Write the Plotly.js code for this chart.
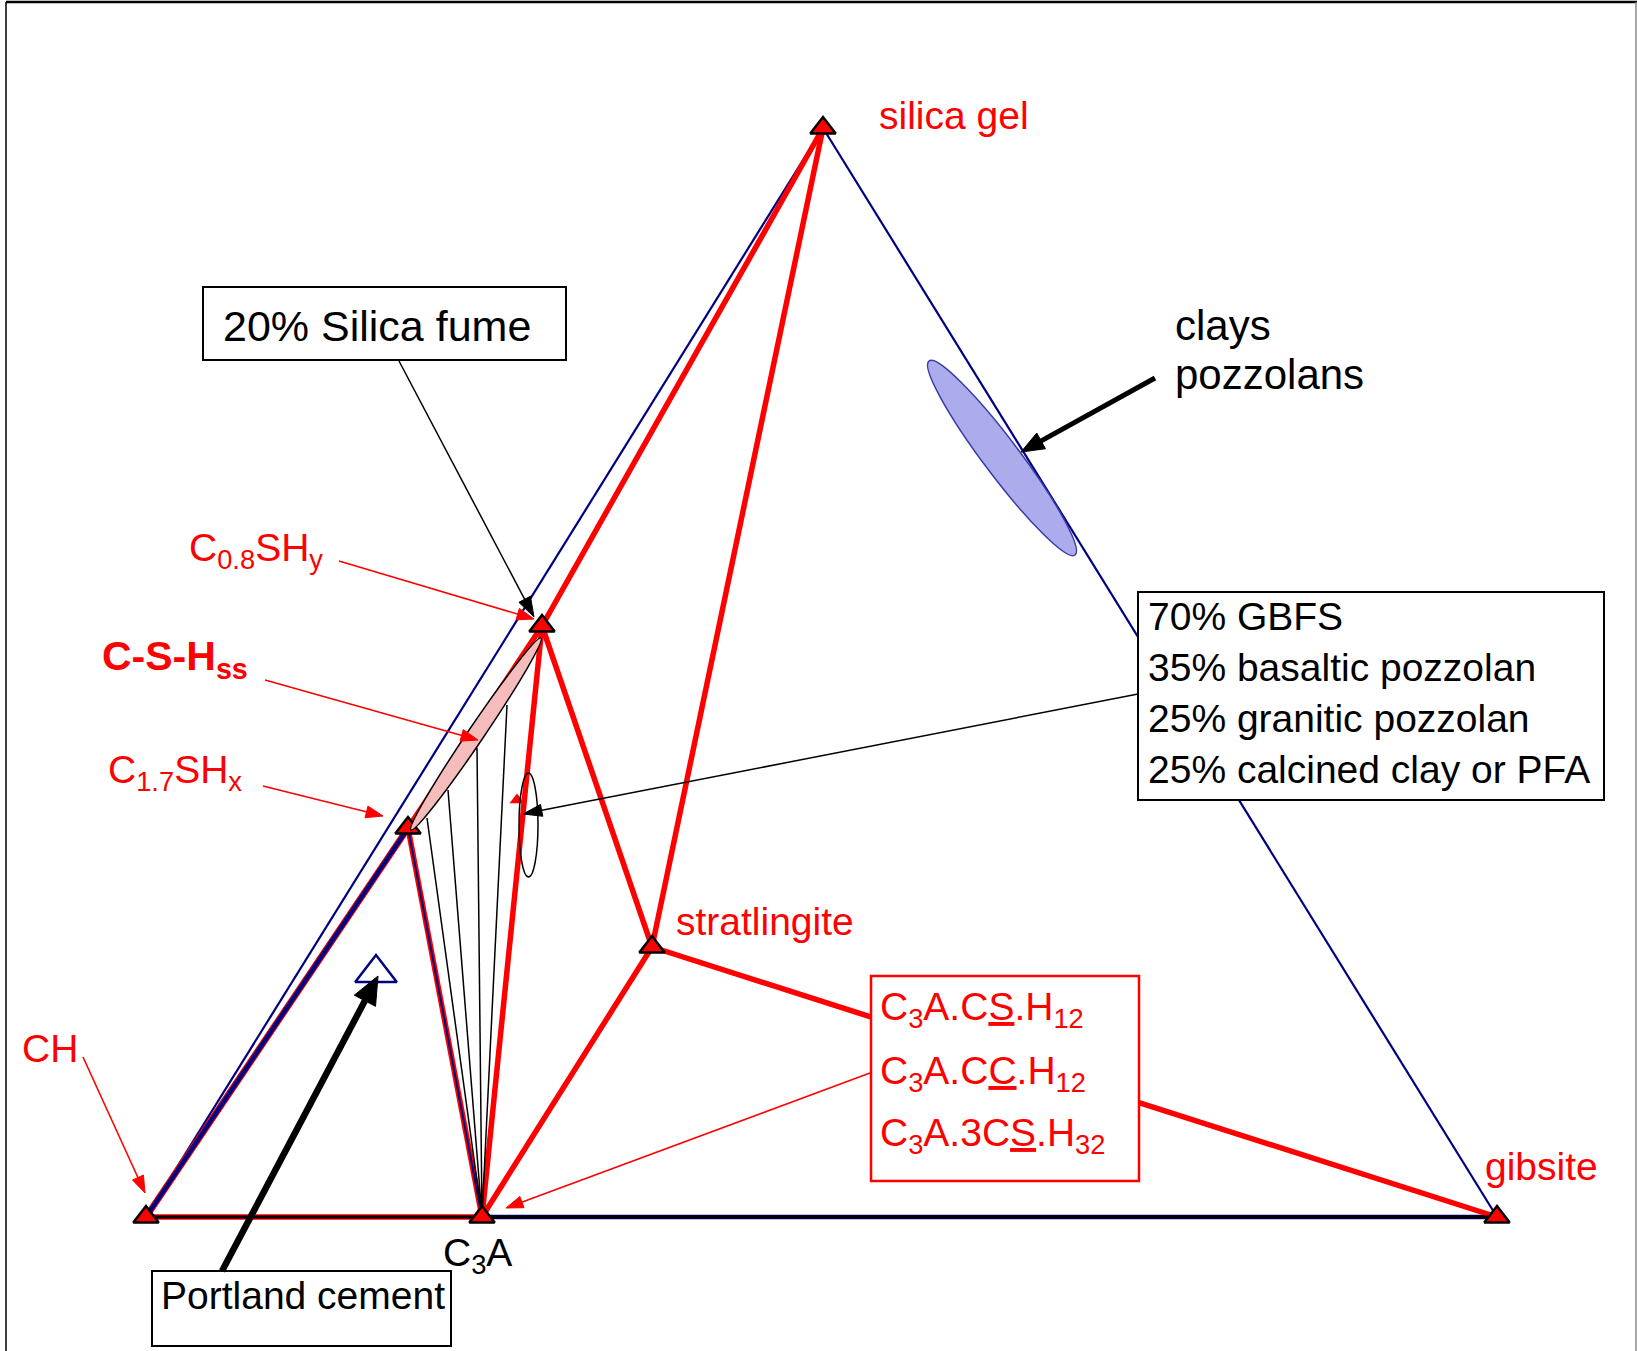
<!DOCTYPE html>
<html><head><meta charset="utf-8">
<script src="https://cdn.plot.ly/plotly-3.0.1.min.js"></script>
<style>html,body{margin:0;padding:0;background:#fff;}#chart{width:1637px;height:1351px;}</style>
</head><body><div id="chart"></div>
<script>
// ---- Phase vertices of the CaO-Al2O3-SiO2 (hydrated) diagram, diagram coordinates ----
const phaseNames = ['CH', 'C3A', 'gibsite', 'silica gel', 'C0.8SHy', 'C1.7SHx', 'stratlingite'];
const phaseX = [146, 482, 1497, 823, 542, 408, 652];
const phaseY = [1217, 1217, 1217, 128, 626, 828, 947];

// ---- Edges between phases ----
const outerEdges = [['CH', 'silica gel'], ['silica gel', 'gibsite']];
const outerBaseEdges = [['C3A', 'gibsite']];
const redEdges = [['silica gel', 'C0.8SHy'], ['silica gel', 'stratlingite'], ['C0.8SHy', 'stratlingite'],
  ['stratlingite', 'C3A'], ['stratlingite', 'gibsite'], ['C0.8SHy', 'C3A'], ['C0.8SHy', 'C1.7SHx'],
  ['C1.7SHx', 'C3A'], ['CH', 'C1.7SHx'], ['CH', 'C3A']];
const baseEdges = [['CH', 'gibsite']];

// ---- Tie lines from C3A to the C-S-H solid solution ----
const tieEndX = [427, 448, 477, 507];
const tieEndY = [818, 790, 748, 705];

// ---- Other composition points ----
const cementX = [376], cementY = [973];           // Portland cement
const blendX = [517], blendY = [800];             // blended cement point

// ---- Composition regions (axis end points, half width) ----
const cshRegion = {from: [411, 830], to: [541, 638], half: 8};
const clayRegion = {from: [929, 361], to: [1075, 555], half: 18};

// ---- Texts ----
const hydrateLines = ['C<sub>3</sub>A.C<u>S</u>.H<sub>12</sub>', 'C<sub>3</sub>A.C<u>C</u>.H<sub>12</sub>', 'C<sub>3</sub>A.3C<u>S</u>.H<sub>32</sub>'];
const blendLines = ['70% GBFS', '35% basaltic pozzolan', '25% granitic pozzolan', '25% calcined clay or PFA'];

const RED = '#ff0000', NAVY = '#000080', FONT = 'Liberation Sans, Arial, Helvetica, sans-serif';

function idx(n) { return phaseNames.indexOf(n); }
function edgeTrace(edges, color, width) {
  const x = [], y = [];
  edges.forEach(([a, b]) => { x.push(phaseX[idx(a)], phaseX[idx(b)], null); y.push(phaseY[idx(a)], phaseY[idx(b)], null); });
  return {type: 'scatter', mode: 'lines', x, y, line: {color, width}, hoverinfo: 'skip'};
}
const c3a = idx('C3A');
const tieX = [], tieY = [];
tieEndX.forEach((v, i) => { tieX.push(phaseX[c3a], v, null); tieY.push(phaseY[c3a], tieEndY[i], null); });

const traces = [
  edgeTrace(outerEdges, NAVY, 2.2),
  edgeTrace(outerBaseEdges, NAVY, 4.5),
  edgeTrace(redEdges, RED, 5.5),
  edgeTrace([['CH', 'C1.7SHx']], RED, 6.5),
  edgeTrace([['CH', 'C1.7SHx']], NAVY, 4.5),
  edgeTrace([['C1.7SHx', 'C3A']], NAVY, 2),
  edgeTrace(baseEdges, '#000000', 3),
  {type: 'scatter', mode: 'lines', x: tieX, y: tieY, line: {color: '#000', width: 1.5}, hoverinfo: 'skip'},
  {type: 'scatter', mode: 'markers', x: blendX, y: blendY, marker: {symbol: 'triangle-up', size: 13, color: RED, line: {width: 0}}},
  {type: 'scatter', mode: 'markers', x: cementX, y: cementY, marker: {symbol: 'triangle-up', size: 36, color: '#fff', line: {color: NAVY, width: 2.5}}},
  {type: 'scatter', mode: 'markers', x: phaseX, y: phaseY, text: phaseNames,
   marker: {symbol: 'triangle-up', size: 22, color: RED, line: {color: '#000', width: 2.5}}}
];

function ellipsePath(r) {
  const p = r.from, q = r.to;
  const cx = (p[0] + q[0]) / 2, cy = (p[1] + q[1]) / 2;
  const dx = (q[0] - p[0]) / 2, dy = (q[1] - p[1]) / 2;
  const len = Math.hypot(dx, dy);
  const nx = -dy / len * r.half, ny = dx / len * r.half;
  const k = 0.5523;
  const P = (a, b) => (cx + a * dx + b * nx).toFixed(2) + ',' + (cy + a * dy + b * ny).toFixed(2);
  return 'M' + P(1, 0) + ' C' + P(1, k) + ' ' + P(k, 1) + ' ' + P(0, 1) +
    ' C' + P(-k, 1) + ' ' + P(-1, k) + ' ' + P(-1, 0) +
    ' C' + P(-1, -k) + ' ' + P(-k, -1) + ' ' + P(0, -1) +
    ' C' + P(k, -1) + ' ' + P(1, -k) + ' ' + P(1, 0) + ' Z';
}

// ---- Pointer arrows (tail -> tip) ----
const pointers = [
  {tail: [83, 1057], tip: [145, 1193], color: RED, width: 1.6, head: 17, headW: 12},
  {tail: [339, 561], tip: [534, 619], color: RED, width: 1.6, head: 17, headW: 12},
  {tail: [265, 680], tip: [478, 740], color: RED, width: 1.6, head: 17, headW: 12},
  {tail: [263, 786], tip: [383, 816], color: RED, width: 1.6, head: 17, headW: 12},
  {tail: [870, 1073], tip: [506, 1208], color: RED, width: 1.6, head: 17, headW: 12},
  {tail: [399, 361], tip: [534, 617], color: '#000', width: 1.5, head: 20, headW: 13},
  {tail: [1138, 694], tip: [523, 814], color: '#000', width: 1.5, head: 19, headW: 12},
  {tail: [222, 1271], tip: [378, 976], color: '#000', width: 6.5, head: 28, headW: 24},
  {tail: [1155, 378], tip: [1021, 452], color: '#000', width: 5, head: 23, headW: 18}
];
function arrowShapes(a) {
  const dx = a.tip[0] - a.tail[0], dy = a.tip[1] - a.tail[1];
  const L = Math.hypot(dx, dy), ux = dx / L, uy = dy / L;
  const bx = a.tip[0] - ux * a.head, by = a.tip[1] - uy * a.head;
  const ex = a.tip[0] - ux * a.head * 0.6, ey = a.tip[1] - uy * a.head * 0.6;
  const hx = -uy * a.headW / 2, hy = ux * a.headW / 2;
  const f = v => v.toFixed(2);
  return [
    {type: 'line', xref: 'x', yref: 'y', layer: 'above', x0: a.tail[0], y0: a.tail[1], x1: ex, y1: ey, line: {color: a.color, width: a.width}},
    {type: 'path', xref: 'x', yref: 'y', layer: 'above', fillcolor: a.color, line: {color: a.color, width: 1},
     path: 'M' + f(a.tip[0]) + ',' + f(a.tip[1]) + ' L' + f(bx + hx) + ',' + f(by + hy) + ' L' + f(bx - hx) + ',' + f(by - hy) + ' Z'}
  ];
}

const shapes = [
  // frame
  {type: 'line', xref: 'x', yref: 'y', x0: 6, x1: 1637, y0: 2, y1: 2, line: {color: '#000', width: 2.5}},
  {type: 'line', xref: 'x', yref: 'y', x0: 6, x1: 6, y0: 2, y1: 1351, line: {color: '#000', width: 1.5}},
  {type: 'line', xref: 'x', yref: 'y', x0: 1636, x1: 1636, y0: 2, y1: 1351, line: {color: '#888', width: 1.5}},
  // regions
  {type: 'path', xref: 'x', yref: 'y', layer: 'above', path: ellipsePath(cshRegion), fillcolor: '#f6bcbc', line: {color: '#000', width: 1.5}},
  {type: 'path', xref: 'x', yref: 'y', layer: 'above', path: ellipsePath(clayRegion), fillcolor: '#acacec', line: {color: '#3a3aa8', width: 1.5}},
  {type: 'circle', xref: 'x', yref: 'y', layer: 'above', x0: 519, x1: 538, y0: 773, y1: 877, line: {color: '#000', width: 1.5}},
  // boxes
  {type: 'rect', xref: 'x', yref: 'y', layer: 'above', x0: 203, x1: 566, y0: 287, y1: 360, fillcolor: '#fff', line: {color: '#000', width: 2}},
  {type: 'rect', xref: 'x', yref: 'y', layer: 'above', x0: 1138, x1: 1604, y0: 592, y1: 800, fillcolor: '#fff', line: {color: '#000', width: 2}},
  {type: 'rect', xref: 'x', yref: 'y', layer: 'above', x0: 871, x1: 1139, y0: 976, y1: 1181, fillcolor: '#fff', line: {color: RED, width: 2.5}},
  {type: 'rect', xref: 'x', yref: 'y', layer: 'above', x0: 152, x1: 451, y0: 1271, y1: 1346, fillcolor: '#fff', line: {color: '#000', width: 2}}
];
pointers.forEach(a => shapes.push(...arrowShapes(a)));

function label(text, x, y, color, size) {
  return {text, x, y, xref: 'x', yref: 'y', xanchor: 'left', yanchor: 'middle', showarrow: false,
    borderpad: 0, font: {family: FONT, size: size || 39, color}};
}

const annotations = [
  label('silica gel', 878, 115, RED),
  label('stratlingite', 675, 921, RED),
  label('gibsite', 1484, 1166, RED),
  label('CH', 21, 1048, RED),
  label('C<sub>0.8</sub>SH<sub>y</sub>', 188, 550, RED),
  label('<b>C-S-H<sub>ss</sub></b>', 101, 659, RED, 41),
  label('C<sub>1.7</sub>SH<sub>x</sub>', 107, 772, RED),
  label('C<sub>3</sub>A', 442, 1255, '#000'),
  label('Portland cement', 160, 1295, '#000'),
  label('20% Silica fume', 222, 326, '#000', 43),
  label('clays', 1174, 325, '#000', 42),
  label('pozzolans', 1174, 374, '#000', 42),
  label(blendLines[0], 1147, 616, '#000'),
  label(blendLines[1], 1147, 667, '#000'),
  label(blendLines[2], 1147, 718, '#000'),
  label(blendLines[3], 1147, 769, '#000'),
  label(hydrateLines[0], 879, 1009, RED),
  label(hydrateLines[1], 879, 1073, RED),
  label(hydrateLines[2], 879, 1135, RED)
];

const layout = {
  width: 1637, height: 1351, margin: {l: 0, r: 0, t: 0, b: 0},
  paper_bgcolor: '#fff', plot_bgcolor: '#fff', showlegend: false,
  xaxis: {range: [0, 1637], visible: false, fixedrange: true},
  yaxis: {range: [1351, 0], visible: false, fixedrange: true},
  shapes, annotations, hovermode: false
};
Plotly.newPlot('chart', traces, layout, {staticPlot: true, displayModeBar: false});
</script></body></html>
